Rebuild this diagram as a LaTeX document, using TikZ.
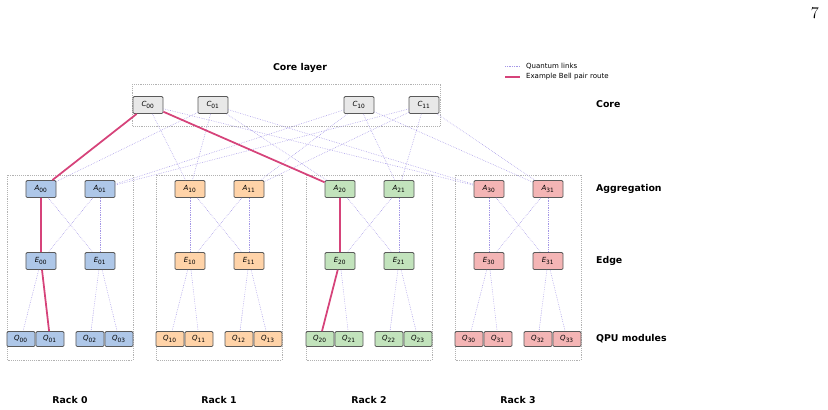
\documentclass[tikz,border=0pt]{standalone}
\usepackage{fontspec}
\setsansfont{DejaVu Sans}
\usetikzlibrary{positioning}
\definecolor{rackblue}{HTML}{AEC7E8}
\definecolor{rackorange}{HTML}{FFD3A8}
\definecolor{rackgreen}{HTML}{C2E3BC}
\definecolor{rackred}{HTML}{F4B5B5}
\definecolor{coregray}{HTML}{E8E8E8}
\definecolor{linkpurple}{HTML}{A497E6}
\definecolor{routepink}{HTML}{D6437A}
\newcommand{\nodelbl}[2]{\textit{#1}\textsubscript{#2}}
\tikzset{
  switchbox/.style={
    rectangle,
    rounded corners=1pt,
    draw=black!65, line width=0.7pt,
    minimum width=0.9cm,
    minimum height=0.51cm,
    inner sep=0pt,
    font=\sffamily\fontsize{6}{7}\selectfont},
  qpubox/.style={switchbox, minimum width=0.84cm, minimum height=0.45cm},
  qlink/.style={draw=linkpurple, densely dotted, line width=0.5pt},
  bellroute/.style={draw=routepink, line width=1.5pt},
  rackframe/.style={draw=black!30, densely dotted, line width=0.6pt},
  layerlabel/.style={anchor=west, font=\sffamily\bfseries\fontsize{8}{9}\selectfont},
  legendtext/.style={anchor=west, font=\sffamily\fontsize{6}{7}\selectfont},
}
\begin{document}
\begin{tikzpicture}[x=0.03cm,y=-0.03cm]
  \useasboundingbox (0,0) rectangle (828,409);
  \node[font=\fontsize{14}{16}\selectfont] (pagenum) at (815,13) {7};
  % core layer
  \draw[rackframe] (132,84) rectangle (440,126);
  \node[layerlabel, anchor=center] (corelayer) at (300,68) {Core layer};
  \node[switchbox, fill=coregray] (c00) at (148,105) {\nodelbl{C}{00}};
  \node[switchbox, fill=coregray] (c01) at (213,105) {\nodelbl{C}{01}};
  \node[switchbox, fill=coregray] (c10) at (359,105) {\nodelbl{C}{10}};
  \node[switchbox, fill=coregray] (c11) at (424,105) {\nodelbl{C}{11}};
  % racks
  \foreach \r/\col/\x in {0/rackblue/41, 1/rackorange/190, 2/rackgreen/340, 3/rackred/489} {
    \draw[rackframe] (\x-34,175) rectangle (\x+92,360);
    \node[layerlabel, anchor=center] (rack\r) at (\x+29,400) {Rack \r};
    \node[switchbox, fill=\col] (a\r0) at (\x,189) {\nodelbl{A}{\r0}};
    \node[switchbox, fill=\col] (a\r1) at (\x+59,189) {\nodelbl{A}{\r1}};
    \node[switchbox, fill=\col] (e\r0) at (\x,261) {\nodelbl{E}{\r0}};
    \node[switchbox, fill=\col] (e\r1) at (\x+59,261) {\nodelbl{E}{\r1}};
    \node[qpubox, fill=\col] (q\r0) at (\x-20,339) {\nodelbl{Q}{\r0}};
    \node[qpubox, fill=\col] (q\r1) at (\x+9,339) {\nodelbl{Q}{\r1}};
    \node[qpubox, fill=\col] (q\r2) at (\x+49,339) {\nodelbl{Q}{\r2}};
    \node[qpubox, fill=\col] (q\r3) at (\x+78,339) {\nodelbl{Q}{\r3}};
    \draw[qlink] (a\r0) -- (e\r0);
    \draw[qlink] (a\r0) -- (e\r1);
    \draw[qlink] (a\r1) -- (e\r0);
    \draw[qlink] (a\r1) -- (e\r1);
    \draw[qlink] (e\r0) -- (q\r0);
    \draw[qlink] (e\r0) -- (q\r1);
    \draw[qlink] (e\r1) -- (q\r2);
    \draw[qlink] (e\r1) -- (q\r3);
    \draw[qlink] (c00) -- (a\r0);
    \draw[qlink] (c01) -- (a\r0);
    \draw[qlink] (c10) -- (a\r1);
    \draw[qlink] (c11) -- (a\r1);
  }
  % example route
  \draw[bellroute] (c00) -- (a00) -- (e00) -- (q01);
  \draw[bellroute] (c00) -- (a20) -- (e20) -- (q20);
  % layer names
  \node[layerlabel] (corename) at (592,104) {Core};
  \node[layerlabel] (aggname) at (592,189) {Aggregation};
  \node[layerlabel] (edgename) at (592,261) {Edge};
  \node[layerlabel] (qpuname) at (592,339) {QPU modules};
  % legend
  \coordinate (linkstart) at (505,66);
  \coordinate (linkend) at (520,66);
  \coordinate (routestart) at (505,77);
  \coordinate (routeend) at (520,77);
  \draw[qlink] (linkstart) -- (linkend);
  \draw[bellroute] (routestart) -- (routeend);
  \node[legendtext] (linktext) at (522,66) {Quantum links};
  \node[legendtext] (routetext) at (522,77) {Example Bell pair route};
\end{tikzpicture}
\end{document}
